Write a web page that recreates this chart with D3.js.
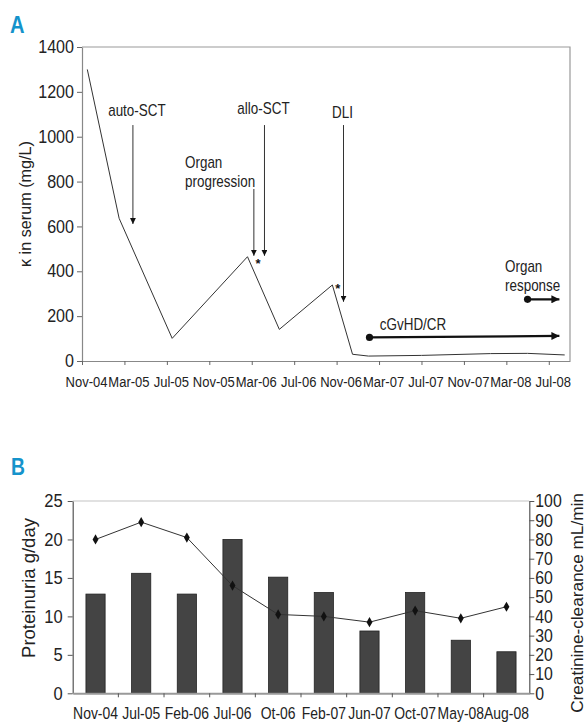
<!DOCTYPE html>
<html>
<head>
<meta charset="utf-8">
<script src="https://cdn.jsdelivr.net/npm/d3@7"></script>
<style>
  html, body { margin: 0; padding: 0; background: #fff; }
  svg { display: block; }
</style>
</head>
<body>
<svg id="chart" width="588" height="722"></svg>
<script>
// ---------- Panel A data ----------
const monthTickLabels = ["Nov-04","Mar-05","Jul-05","Nov-05","Mar-06","Jul-06","Nov-06","Mar-07","Jul-07","Nov-07","Mar-08","Jul-08"];
const monthTickValues = [0,4,8,12,16,20,24,28,32,36,40,44]; // months since Nov-04
const kappaMonths = [0.5, 3.5, 8.5, 15.6, 18.6, 23.6, 25.5, 27, 32, 38.5, 42, 45.5];
const kappaValues = [1300, 636, 101, 465, 141, 339, 30, 22, 25, 33, 34, 27];
const kappaTicks = [0,200,400,600,800,1000,1200,1400];
const eventLabels = ["auto-SCT", "Organ progression", "allo-SCT", "DLI"];
const eventMonths = [4.8, 16.2, 17.2, 24.65];
const eventFrom = [1052, 767, 1052, 1052];
const eventTo = [611, 469, 469, 264];
const starMonths = [16.6, 24.1];
const starValues = [436, 325];
const rangeLabels = ["cGvHD/CR", "Organ response"];
const rangeStart = [27.1, 42];
const rangeEnd = [45, 45];
const rangeValStart = [105, 275];
const rangeValEnd = [112, 275];

// ---------- Panel B data ----------
const visits = ["Nov-04","Jul-05","Feb-06","Jul-06","Ot-06","Feb-07","Jun-07","Oct-07","May-08","Aug-08"];
const proteinuria = [12.9, 15.6, 12.9, 20.0, 15.1, 13.1, 8.1, 13.1, 6.9, 5.4];
const clearance = [80, 89, 81, 56, 41, 40, 37, 43, 39, 45];
const protTicks = [0,5,10,15,20,25];
const clearTicks = [0,10,20,30,40,50,60,70,80,90,100];

const svg = d3.select("#chart");
const sans = "'Liberation Sans', Arial, sans-serif";
const squeeze = 0.84; // horizontal condensing for narrow typeface look
const blue = "#1593cb";
const ink = "#222";

// defs: arrowheads
const defs = svg.append("defs");
defs.append("marker").attr("id","arrSmall").attr("viewBox","0 0 10 10")
  .attr("refX",10).attr("refY",5).attr("markerWidth",6).attr("markerHeight",6)
  .attr("markerUnits","userSpaceOnUse").attr("orient","auto")
  .append("path").attr("d","M0,0 L10,5 L0,10 Z").attr("fill","#111");
defs.append("marker").attr("id","arrBig").attr("viewBox","0 0 10 10")
  .attr("refX",10).attr("refY",5).attr("markerWidth",9).attr("markerHeight",8)
  .attr("markerUnits","userSpaceOnUse").attr("orient","auto")
  .append("path").attr("d","M0,0 L10,5 L0,10 Z").attr("fill","#111");

// condensed text helper
function ctext(x, y, t, size, anchor, rot, opts) {
  const sq = (opts && opts.sq) || squeeze;
  const g = svg.append("g").attr("transform", `translate(${x},${y})` + (rot ? ` rotate(${rot})` : ""));
  const el = g.append("text").attr("transform", `scale(${sq},1)`)
    .attr("text-anchor", anchor || "middle").attr("font-family", sans)
    .attr("font-size", size).attr("fill", (opts && opts.fill) || ink).text(t);
  if (opts && opts.bold) el.attr("font-weight", "bold");
  return el;
}

// ================= Panel A =================
const A = { left: 82, right: 570, top: 47, bottom: 361 };
const xA = d3.scaleLinear().domain([0, 46]).range([A.left, A.right]);
const yA = d3.scaleLinear().domain([0, 1400]).range([A.bottom, A.top]);

ctext(10, 33, "A", 24, "start", 0, { bold: true, fill: blue });

// frame top/right
svg.append("path")
  .attr("d", `M${A.left},${A.top} H${A.right} V${A.bottom}`)
  .attr("fill","none").attr("stroke","#999").attr("stroke-width",1.2);

const gAy = svg.append("g").attr("transform", `translate(${A.left},0)`)
  .call(d3.axisLeft(yA).tickValues(kappaTicks).tickSize(5).tickSizeOuter(0).tickPadding(3).tickFormat(d3.format("d")));
const gAx = svg.append("g").attr("transform", `translate(0,${A.bottom})`)
  .call(d3.axisBottom(xA).tickValues(monthTickValues).tickSize(4).tickSizeOuter(0)
    .tickFormat((d,i) => monthTickLabels[i]));
[gAy, gAx].forEach(g => {
  g.select(".domain").attr("stroke","#888").attr("stroke-width",1.2);
  g.selectAll(".tick line").attr("stroke","#666");
});
gAy.selectAll("text").attr("font-family", sans).attr("font-size", 17.5).attr("fill", ink)
  .attr("x", -8 / (squeeze + 0.08)).attr("transform", `scale(${squeeze + 0.08},1)`);
gAx.selectAll("text").attr("font-family", sans).attr("font-size", 15.5).attr("fill", ink)
  .attr("y", 26).attr("dy", 0).attr("x", 4 / squeeze).attr("transform", `scale(${squeeze},1)`);

ctext(31, 204, "κ in serum (mg/L)", 16.2, "middle", -90, { sq: 1 });

// kappa line
const lineA = d3.line().x((d,i) => xA(kappaMonths[i])).y((d,i) => yA(kappaValues[i]));
svg.append("path").datum(kappaValues).attr("d", lineA)
  .attr("fill","none").attr("stroke","#333").attr("stroke-width",1);

// event arrows
eventLabels.forEach((lab, i) => {
  const x = xA(eventMonths[i]);
  svg.append("line").attr("x1", x).attr("x2", x)
    .attr("y1", yA(eventFrom[i])).attr("y2", yA(eventTo[i]))
    .attr("stroke","#333").attr("stroke-width",1).attr("marker-end","url(#arrSmall)");
});
ctext(xA(eventMonths[0]) + 4, 116, eventLabels[0], 16);
ctext(xA(eventMonths[2]) - 1, 114, eventLabels[2], 16);
ctext(xA(eventMonths[3]) - 1, 118, eventLabels[3], 16);
const opWords = eventLabels[1].split(" ");
ctext(185, 168, opWords[0], 16, "start");
ctext(185, 187, opWords[1], 16, "start");

// asterisks
starMonths.forEach((m, i) => {
  svg.append("text").attr("x", xA(m)).attr("y", yA(starValues[i]) + 5)
    .attr("text-anchor","middle").attr("font-family", sans).attr("font-weight","bold")
    .attr("font-size", 13).attr("fill", "#111").text("*");
});

// range arrows
rangeLabels.forEach((lab, i) => {
  const x1 = xA(rangeStart[i]), x2 = xA(rangeEnd[i]);
  const y1 = yA(rangeValStart[i]), y2 = yA(rangeValEnd[i]);
  svg.append("line").attr("x1", x1).attr("y1", y1).attr("x2", x2).attr("y2", y2)
    .attr("stroke","#111").attr("stroke-width",2.2).attr("marker-end","url(#arrBig)");
  svg.append("circle").attr("cx", x1).attr("cy", y1).attr("r", 3.6).attr("fill","#111");
});
ctext(413, 330, rangeLabels[0], 16);
const orWords = rangeLabels[1].split(" ");
ctext(505, 272, orWords[0], 16, "start");
ctext(505, 291, orWords[1], 16, "start");

// ================= Panel B =================
const B = { left: 72.7, right: 529.3, top: 501, bottom: 693.3 };
const xB = d3.scaleBand().domain(visits).range([B.left, B.right]).padding(0);
const yL = d3.scaleLinear().domain([0, 25]).range([B.bottom, B.top]);
const yR = d3.scaleLinear().domain([0, 100]).range([B.bottom, B.top]);

ctext(11, 475, "B", 23, "start", 0, { bold: true, fill: blue });

// top gridline
svg.append("line").attr("x1", B.left).attr("x2", B.right).attr("y1", yL(25)).attr("y2", yL(25))
  .attr("stroke","#c4c4c4").attr("stroke-width",1.2);

// bars
const barW = xB.bandwidth() * 0.42;
svg.append("g").selectAll("rect").data(proteinuria).join("rect")
  .attr("x", (d,i) => xB(visits[i]) + (xB.bandwidth() - barW) / 2)
  .attr("y", d => yL(d))
  .attr("width", barW)
  .attr("height", d => yL(0) - yL(d))
  .attr("fill", "#444").attr("stroke", "#222").attr("stroke-width", 0.8);

// axes
const gBl = svg.append("g").attr("transform", `translate(${B.left},0)`)
  .call(d3.axisLeft(yL).tickValues(protTicks).tickSize(5).tickSizeOuter(0).tickPadding(6));
const gBr = svg.append("g").attr("transform", `translate(${B.right},0)`)
  .call(d3.axisRight(yR).tickValues(clearTicks).tickSize(5).tickSizeOuter(0).tickPadding(2));
const gBx = svg.append("g").attr("transform", `translate(0,${B.bottom})`)
  .call(d3.axisBottom(xB).tickSize(0).tickSizeOuter(0));
[gBl, gBr].forEach(g => {
  g.select(".domain").attr("stroke","#555").attr("stroke-width",1.2);
  g.selectAll(".tick line").attr("stroke","#555");
});
gBl.selectAll("text").attr("font-family", sans).attr("font-size", 18).attr("fill", ink)
  .attr("x", -10 / 0.92).attr("transform", "scale(0.92,1)");
gBr.selectAll("text").attr("font-family", sans).attr("font-size", 18).attr("fill", ink)
  .attr("x", 6 / 0.88).attr("transform", "scale(0.88,1)");
gBx.select(".domain").attr("stroke","#999").attr("stroke-width",2);
gBx.selectAll("text").attr("font-family", sans).attr("font-size", 17).attr("fill", ink)
  .attr("y", 26).attr("dy", 0).attr("transform", `scale(${squeeze - 0.02},1)`);
// category boundary ticks
gBx.append("g").selectAll("line").data(visits.slice(1)).join("line")
  .attr("x1", d => xB(d)).attr("x2", d => xB(d)).attr("y1", 0).attr("y2", 4)
  .attr("stroke","#555");

// clearance line
const lineB = d3.line().x((d,i) => xB(visits[i]) + xB.bandwidth()/2).y(d => yR(d));
svg.append("path").datum(clearance).attr("d", lineB)
  .attr("fill","none").attr("stroke","#333").attr("stroke-width",1);
svg.append("g").selectAll("path").data(clearance).join("path")
  .attr("transform", (d,i) => `translate(${xB(visits[i]) + xB.bandwidth()/2},${yR(d)})`)
  .attr("d", d3.symbol().type(d3.symbolDiamond).size(30))
  .attr("fill", "#111");

ctext(35, 588, "Proteinuria g/day", 18.5, "middle", -90, { sq: 1 });
ctext(583, 603, "Creatinine-clearance mL/min", 17.2, "middle", -90, { sq: 1 });
</script>
</body>
</html>
